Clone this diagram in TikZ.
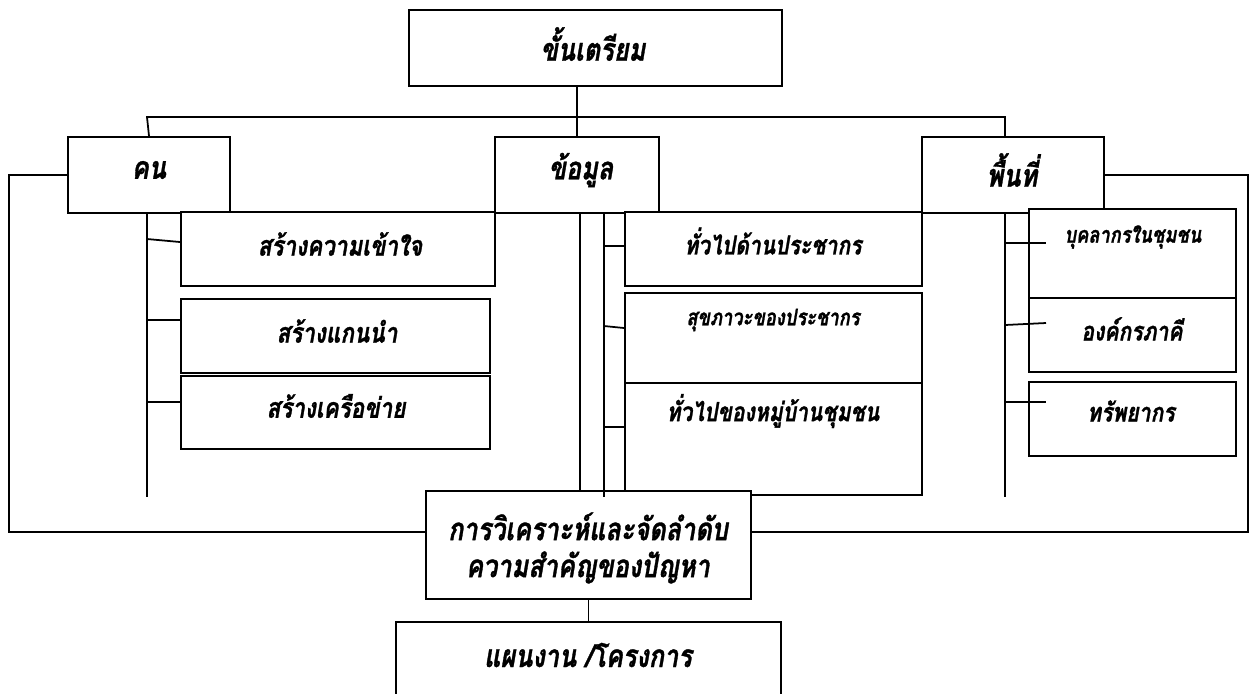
\documentclass[tikz,border=0pt]{standalone}
\usepackage{fontspec}
\newfontfamily\thaifont[Script=Thai,FakeStretch=0.8,FakeBold=1]{Loma}
\usetikzlibrary{fit}

\tikzset{
  box/.style={draw, line width=1.2pt, inner sep=0pt, fill=white},
  link/.style={line width=1pt},
  lbl/.style={inner sep=0pt, align=center, font=\thaifont\bfseries\itshape\fontsize{#1}{21}\selectfont},
  lbl/.default=18
}

\begin{document}
\begin{tikzpicture}[x=0.2mm,y=-0.2mm]
\useasboundingbox (0,0) rectangle (1253,693);
% boxes
\node[box, fit={(409,10) (782,86)}] (prep) {};
\node[box, fit={(68,137) (230,213)}] (kon) {};
\node[box, fit={(495,137) (659,213)}] (data) {};
\node[box, fit={(922,137) (1104,213)}] (area) {};
\node[box, fit={(181,212) (495,286)}] (k1) {};
\node[box, fit={(181,299) (490,373)}] (k2) {};
\node[box, fit={(181,376) (490,449)}] (k3) {};
\node[box, fit={(625,212) (922,286)}] (d1) {};
\node[box, fit={(625,293) (922,383)}] (d2) {};
\node[box, fit={(625,383) (922,495)}] (d3) {};
\node[box, fit={(1029,209) (1236,298)}] (a1) {};
\node[box, fit={(1029,298) (1236,372)}] (a2) {};
\node[box, fit={(1029,382) (1236,456)}] (a3) {};
\node[box, fit={(396,622) (781,700)}] (plan) {};
\node[box, fit={(426,491) (751,599)}] (ana) {};
% labels
\node[lbl] (tprep) at (593,44) {ขั้นเตรียม};
\node[lbl] (tkon) at (149,170) {คน};
\node[lbl] (tdata) at (581,170) {ข้อมูล};
\node[lbl] (tarea) at (1012,170) {พื้นที่};
\node[lbl=16] (tk1) at (340,244) {สร้างความเข้าใจ};
\node[lbl=16] (tk2) at (337,331) {สร้างแกนนำ};
\node[lbl=16] (tk3) at (336,406) {สร้างเครือข่าย};
\node[lbl=15] (td1) at (773,241) {ทั่วไปด้านประชากร};
\node[lbl=13] (td2) at (773,320) {สุขภาวะของประชากร};
\node[lbl=15] (td3) at (773,411) {ทั่วไปของหมู่บ้านชุมชน};
\node[lbl=13] (ta1) at (1133,237) {บุคลากรในชุมชน};
\node[lbl=15] (ta2) at (1132,329) {องค์กรภาคี};
\node[lbl=15] (ta3) at (1131,411) {ทรัพยากร};
\node[lbl] (tana) at (588,548) {การวิเคราะห์และจัดลำดับ\\ความสำคัญของปัญหา};
\node[lbl] (tplan) at (588,655) {แผนงาน /โครงการ};
% tree
\draw[link] (data.north) -- (data.north |- prep.south);
\draw[link] (kon.north) -- (147,117) -| (area.north -| 1005,0);
% trunks and ticks
\draw[link] (kon.south -| 147,0) -- (147,497);
\draw[link] (147,239) -- (k1.west |- 0,242);
\draw[link] (147,320) -- (k2.west |- 0,320);
\draw[link] (147,402) -- (k3.west |- 0,402);
\draw[link] (data.south -| 580,0) -- (ana.north -| 580,0);
\draw[link] (data.south -| 604,0) -- (604,497);
\draw[link] (604,246) -- (d1.west |- 0,246);
\draw[link] (604,326) -- (d2.west |- 0,328);
\draw[link] (604,427) -- (d3.west |- 0,427);
\draw[link] (area.south -| 1005,0) -- (1005,497);
\draw[link] (1005,243) -- (1046,243);
\draw[link] (1005,325) -- (1046,323);
\draw[link] (1005,402) -- (1046,402);
% loop back
\draw[link] (kon.west) -| (9,532) -- (ana.west |- 0,532);
\draw[link] (area.east) -| (1248,532) -- (ana.east |- 0,532);
\draw[link] (ana.south) -- (plan.north);
\end{tikzpicture}
\end{document}
